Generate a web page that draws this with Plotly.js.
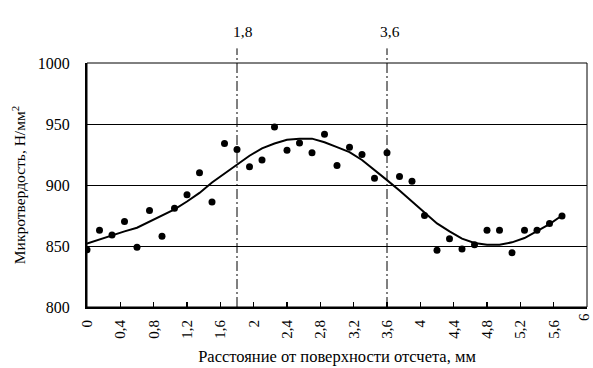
<!DOCTYPE html>
<html>
<head>
<meta charset="utf-8">
<script src="https://cdn.plot.ly/plotly-3.0.1.min.js"></script>
<style>html,body{margin:0;padding:0;background:#fff;}#chart{width:593px;height:368px;}</style>
</head>
<body>
<div id="chart"></div>
<script>
// measured points
const distance = [0, 0.15, 0.3, 0.45, 0.6, 0.75, 0.9, 1.05, 1.2, 1.35, 1.5, 1.65, 1.8, 1.95,
  2.1, 2.25, 2.4, 2.55, 2.7, 2.85, 3.0, 3.15, 3.3, 3.45, 3.6, 3.75, 3.9, 4.05, 4.2, 4.35,
  4.5, 4.65, 4.8, 4.95, 5.1, 5.25, 5.4, 5.55, 5.7];
const hardness = [847, 863, 859, 870, 849, 879, 858, 881, 892, 910, 886, 934, 929, 915,
  920.5, 947.5, 928.5, 934.5, 926.5, 941.5, 916, 931, 925, 905.5, 926.5, 907, 903, 875, 846.5, 856,
  847.5, 851, 863, 863, 844.5, 863, 863, 868.5, 874.5];
// smoothed trend curve
const trend = [852, 855.5, 858.5, 862, 865, 870, 875, 880, 886.5, 893.5, 902, 909.5, 917, 924,
  930, 934, 937, 938, 938, 935, 931, 927, 920.5, 912.5, 904, 895.5, 886.5, 877, 868.5, 862,
  856, 852.5, 851, 851, 853, 856.5, 862, 868, 875];
// marker lines
const markLines = [1.8, 3.6];
const markLabels = ['1,8', '3,6'];
// ticks (the last one, at the right edge, is drawn as an annotation so it stays inside the page)
const xTickVals = [0, 0.4, 0.8, 1.2, 1.6, 2, 2.4, 2.8, 3.2, 3.6, 4, 4.4, 4.8, 5.2, 5.6];
const xTickText = ['0', '0,4', '0,8', '1,2', '1,6', '2', '2,4', '2,8', '3,2', '3,6', '4', '4,4', '4,8', '5,2', '5,6'];
const xEndTick = 6;
const xEndText = '6';
const yTickVals = [800, 850, 900, 950, 1000];
const yTickText = ['800', '850', '900', '950', '1000'];

const FAM = 'Liberation Serif';
function f(size) { return {family: FAM, color: '#000', size: size}; }

const traces = [
  {x: distance, y: trend, mode: 'lines', line: {color: '#000', width: 2}, hoverinfo: 'skip'},
  {x: distance, y: hardness, mode: 'markers', marker: {color: '#000', size: 7}}
];

const shapes = markLines.map(v => ({
  type: 'line', xref: 'x', yref: 'paper', x0: v, x1: v, y0: 0, y1: 1.06,
  line: {color: '#000', width: 1, dash: '10px,3px,2px,3px'}
}));
shapes.push({type: 'rect', xref: 'paper', yref: 'paper', x0: 0, x1: 1, y0: 0, y1: 1,
  line: {color: '#000', width: 1}});

const annotations = markLines.map((v, i) => ({
  x: v, y: 1.085, xref: 'x', yref: 'paper', text: markLabels[i], showarrow: false,
  xanchor: 'center', yanchor: 'bottom', xshift: i === 0 ? 6 : 3, font: f(15.5)
}));
annotations.push({
  x: xEndTick, y: 0, xref: 'x', yref: 'paper', text: xEndText, showarrow: false,
  textangle: -90, xanchor: 'center', yanchor: 'top', xshift: -3, yshift: -4, font: f(15)
});

const layout = {
  width: 593, height: 368,
  margin: {l: 87, r: 6, t: 63, b: 61},
  paper_bgcolor: '#fff', plot_bgcolor: '#fff',
  showlegend: false,
  font: f(15),
  xaxis: {
    range: [0, 6], tickvals: xTickVals, ticktext: xTickText, tickangle: -90,
    ticks: 'inside', ticklen: 5, tickwidth: 1.5, tickcolor: '#000',
    showline: true, linecolor: '#000', linewidth: 2, showgrid: false, zeroline: false,
    ticklabelstandoff: 5, tickfont: f(15),
    title: {text: 'Расстояние от поверхности отсчета, мм', font: f(16.5), standoff: 13}
  },
  yaxis: {
    range: [800, 1000], tickvals: yTickVals, ticktext: yTickText,
    ticks: '', showline: true, linecolor: '#000', linewidth: 2,
    showgrid: true, gridcolor: '#000', gridwidth: 1, zeroline: false,
    ticklabelstandoff: 12, tickfont: f(16),
    title: {text: 'Микротвердость, Н/мм<sup>2</sup>', font: f(15.5), standoff: 8}
  },
  shapes: shapes,
  annotations: annotations
};

Plotly.newPlot('chart', traces, layout, {staticPlot: true, displayModeBar: false});
</script>
</body>
</html>
